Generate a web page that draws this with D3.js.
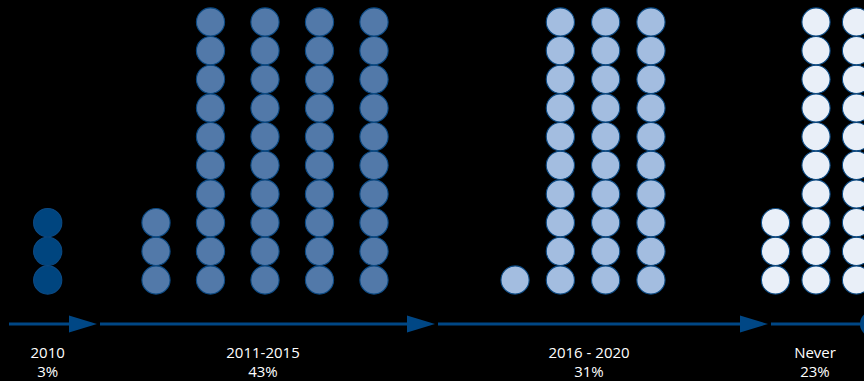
<!DOCTYPE html>
<html>
<head>
<meta charset="utf-8">
<script src="https://cdn.jsdelivr.net/npm/d3@7"></script>
<style>
  html, body { margin: 0; padding: 0; background: #000; }
  svg { display: block; }
</style>
</head>
<body>
<div class="dot-chart"></div>
<script>
// data
const categories = ["2010", "2011-2015", "2016 - 2020", "Never"];
const percents = [3, 43, 31, 23];
const dotsPerColumn = 10;

const W = 864, H = 381;

// layout (centre of each group, spacing of its columns)
const groupCenter = [47.7, 265, 583, 816];
const labelCenter = [47.7, 263, 589, 815];
const columnStep = [54, 54.5, 45.3, 40.5];
const arrowTips = [97, 435, 768];
const fills = ["#00457f", "#5279a9", "#a3bde0", "#e9eff8"];

const svg = d3.select(".dot-chart")
  .append("svg")
  .attr("width", W)
  .attr("height", H);

// rows: 0 at bottom
const yScale = d3.scaleLinear()
  .domain([0, dotsPerColumn - 1])
  .range([280, 22]);

const r = 14.1;
const lineY = 324;

// split each percentage into columns: remainder first, then full columns
const columns = percents.map(p => {
  const cols = [];
  const rem = p % dotsPerColumn;
  if (rem) cols.push(rem);
  for (let i = 0; i < Math.floor(p / dotsPerColumn); i++) cols.push(dotsPerColumn);
  return cols;
});

const dots = [];
columns.forEach((cols, g) => {
  const n = cols.length;
  const half = columnStep[g] * (n - 1) / 2;
  const x = d3.scalePoint()
    .domain(d3.range(n))
    .range([groupCenter[g] - half, groupCenter[g] + half]);
  cols.forEach((count, c) => {
    for (let k = 0; k < count; k++) {
      dots.push({ group: g, x: x(c), row: k });
    }
  });
});

svg.selectAll("circle.dot")
  .data(dots)
  .join("circle")
  .attr("class", "dot")
  .attr("cx", d => d.x)
  .attr("cy", d => yScale(d.row))
  .attr("r", r)
  .attr("fill", d => fills[d.group])
  .attr("stroke", "#0b4a84")
  .attr("stroke-width", 1.1);

// timeline
const lineColor = "#004785";
const starts = [9].concat(arrowTips.map(t => t + 3));
const ends = arrowTips.concat([W + 10]);

svg.selectAll("line.seg")
  .data(starts)
  .join("line")
  .attr("class", "seg")
  .attr("x1", d => d)
  .attr("x2", (d, i) => ends[i] - (i < arrowTips.length ? 10 : 0))
  .attr("y1", lineY)
  .attr("y2", lineY)
  .attr("stroke", lineColor)
  .attr("stroke-width", 3);

svg.selectAll("path.head")
  .data(arrowTips)
  .join("path")
  .attr("class", "head")
  .attr("d", t => `M${t - 28},${lineY - 8.5}L${t},${lineY}L${t - 28},${lineY + 8.5}Z`)
  .attr("fill", lineColor);

svg.append("circle")
  .attr("cx", 873)
  .attr("cy", lineY)
  .attr("r", 13)
  .attr("fill", lineColor);

// labels
const labels = svg.selectAll("g.label")
  .data(categories)
  .join("g")
  .attr("class", "label")
  .attr("transform", (d, i) => `translate(${labelCenter[i]},0)`)
  .attr("font-family", "'Open Sans', sans-serif")
  .attr("font-size", 15)
  .attr("fill", "#fff")
  .attr("text-anchor", "middle");

labels.append("text")
  .attr("y", 358)
  .text(d => d);

labels.append("text")
  .attr("y", 377)
  .text((d, i) => percents[i] + "%");
</script>
</body>
</html>
